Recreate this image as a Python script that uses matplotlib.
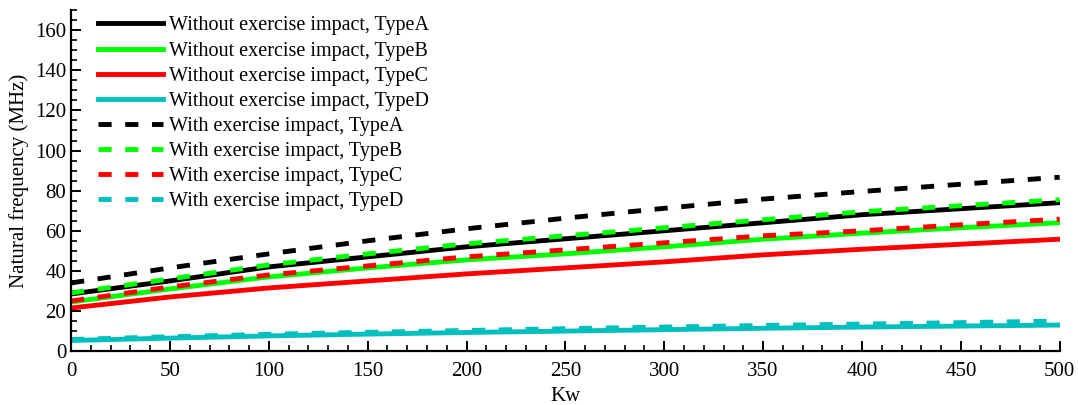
import matplotlib

matplotlib.use("Agg")
import matplotlib.pyplot as plt
from matplotlib.ticker import MultipleLocator

# Kw grid and natural frequency (MHz)
kw = [0, 50, 100, 150, 200, 250, 300, 350, 400, 450, 500]

a_without = [28.5, 35.0, 42.0, 47.0, 52.0, 56.0, 60.0, 64.0, 68.0, 71.0, 74.0]
b_without = [24.5, 31.0, 37.0, 41.5, 45.5, 48.5, 52.0, 55.8, 58.8, 61.5, 64.0]
c_without = [21.5, 27.0, 31.5, 35.0, 38.5, 41.5, 44.5, 48.0, 50.8, 53.3, 55.8]
d_without = [5.3, 6.5, 7.6, 8.5, 9.3, 10.0, 10.7, 11.4, 12.0, 12.5, 13.0]

a_with = [34.0, 41.5, 48.5, 55.0, 61.0, 66.3, 71.2, 75.8, 79.6, 83.2, 86.7]
b_with = [29.0, 36.0, 43.0, 48.5, 53.5, 57.5, 61.5, 65.5, 69.5, 72.5, 75.5]
c_with = [25.0, 32.0, 38.0, 42.5, 47.0, 50.5, 54.0, 57.5, 60.0, 63.0, 65.8]
d_with = [5.8, 7.2, 8.4, 9.4, 10.3, 11.2, 12.0, 12.8, 13.5, 14.2, 15.0]

types = ["TypeA", "TypeB", "TypeC", "TypeD"]
colors = ["#000000", "#00ff00", "#ff0000", "#00bfbf"]

plt.rcParams["font.family"] = ["Liberation Serif", "DejaVu Serif"]
plt.rcParams["font.size"] = 14.5

fig = plt.figure(figsize=(10.78, 4.05), dpi=100)
ax = fig.add_axes([0.066, 0.133, 0.917, 0.842])

lw = 3.5
for ys, t, c in zip([a_without, b_without, c_without, d_without], types, colors):
    ax.plot(kw, ys, color=c, lw=lw, label=f"Without exercise impact, {t}")
for ys, t, c in zip([a_with, b_with, c_with, d_with], types, colors):
    ax.plot(kw, ys, color=c, lw=lw, dashes=(2.7, 2.8),
            label=f"With exercise impact, {t}")

ax.set_xlim(0, 500)
ax.set_ylim(0, 170)
ax.xaxis.set_major_locator(MultipleLocator(50))
ax.xaxis.set_minor_locator(MultipleLocator(10))
ax.yaxis.set_minor_locator(MultipleLocator(5))
ax.set_yticks(range(0, 161, 20))

for s in ["top", "right"]:
    ax.spines[s].set_visible(False)
for s in ["left", "bottom"]:
    ax.spines[s].set_linewidth(1.6)

ax.tick_params(which="major", direction="in", length=7, width=1.4, labelsize=15)
ax.tick_params(axis="x", which="major", pad=8)
ax.tick_params(which="minor", direction="in", length=4, width=1.2)

ax.set_xlabel("Kw", fontsize=15, labelpad=4)
ax.set_ylabel("Natural frequency (MHz)", fontsize=15, labelpad=4)

ax.legend(loc="upper left", bbox_to_anchor=(0.009, 1.035), frameon=False,
          handlelength=3.2, handletextpad=0.3, labelspacing=0.3, fontsize=14.5)

fig.savefig("out.png", dpi=100)
